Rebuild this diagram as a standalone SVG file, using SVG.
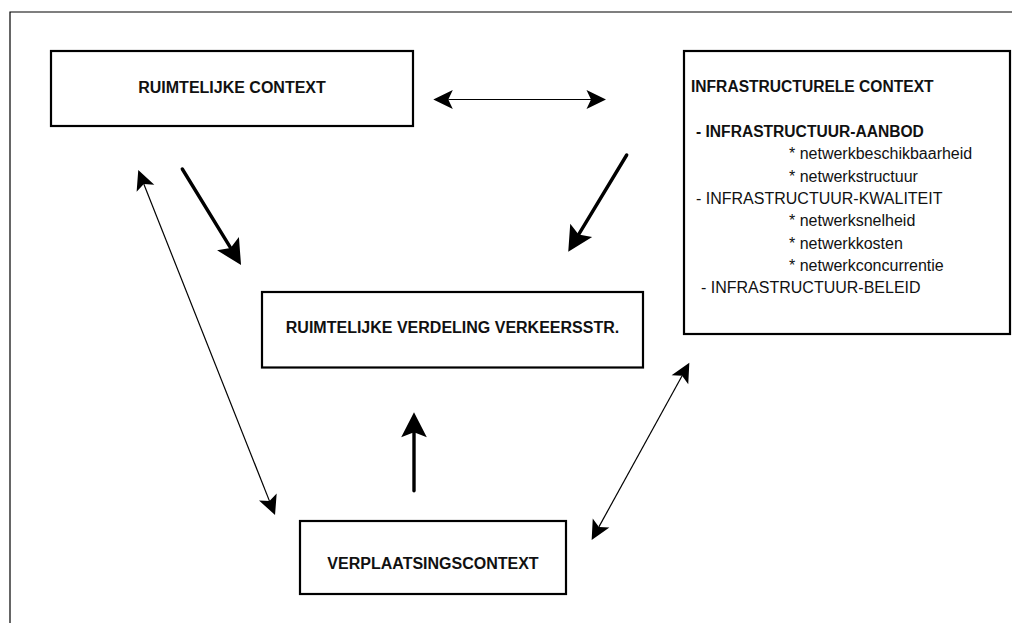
<svg xmlns="http://www.w3.org/2000/svg" width="1016" height="623" viewBox="0 0 1016 623">
  <style>
    .box { fill: #fff; stroke: #000; stroke-width: 2.2; }
    .frame { fill: none; stroke: #000; stroke-width: 1.2; }
    .lbl { font-family: "Liberation Sans", Arial, sans-serif; font-size: 16px; font-weight: bold; fill: #111; }
    .hd { font-family: "Liberation Sans", Arial, sans-serif; font-size: 15.6px; font-weight: bold; fill: #111; }
    .it { font-family: "Liberation Sans", Arial, sans-serif; font-size: 16px; fill: #111; }
    .thick { fill: none; stroke: #000; stroke-width: 3.4; stroke-linecap: round; }
    .thin { fill: none; stroke: #000; stroke-width: 1.2; }
  </style>
  <defs>
    <!-- heavy one-way arrowhead; reference point sits in the notch -->
    <marker id="headThick" markerUnits="userSpaceOnUse" viewBox="-6 -14 27 28" markerWidth="27" markerHeight="28" refX="0" refY="0" orient="auto">
      <path d="M20,0 L-5,-12.8 L0,0 L-5,12.8 Z" fill="#000"/>
    </marker>
    <!-- light arrowhead for the two-way links -->
    <marker id="headThin" markerUnits="userSpaceOnUse" viewBox="-5 -10 21 20" markerWidth="21" markerHeight="20" refX="0" refY="0" orient="auto-start-reverse">
      <path d="M15,0 L-4.5,-9.5 L0,0 L-4.5,9.5 Z" fill="#000"/>
    </marker>
  </defs>

  <!-- page frame: top and left rules only -->
  <path class="frame" d="M10,623 L10,12 L1012,12"/>

  <g id="ruimtelijke-context">
    <rect class="box" x="51" y="51" width="362" height="75"/>
    <text class="lbl" x="232" y="93.3" text-anchor="middle">RUIMTELIJKE CONTEXT</text>
  </g>

  <g id="infrastructurele-context">
    <rect class="box" x="684" y="51" width="326" height="283"/>
    <text class="hd" x="691" y="91.7">INFRASTRUCTURELE CONTEXT</text>
    <text class="hd" x="696" y="137">- INFRASTRUCTUUR-AANBOD</text>
    <text class="it" x="789" y="159.3">* netwerkbeschikbaarheid</text>
    <text class="it" x="789" y="181.6">* netwerkstructuur</text>
    <text class="it" x="696" y="204">- INFRASTRUCTUUR-KWALITEIT</text>
    <text class="it" x="789" y="226.3">* netwerksnelheid</text>
    <text class="it" x="789" y="248.6">* netwerkkosten</text>
    <text class="it" x="789" y="271">* netwerkconcurrentie</text>
    <text class="it" x="701" y="293.3">- INFRASTRUCTUUR-BELEID</text>
  </g>

  <g id="ruimtelijke-verdeling">
    <rect class="box" x="262" y="292" width="381" height="75.5"/>
    <text class="lbl" x="452.5" y="333" text-anchor="middle">RUIMTELIJKE VERDELING VERKEERSSTR.</text>
  </g>

  <g id="verplaatsingscontext">
    <rect class="box" x="300" y="521" width="266" height="73"/>
    <text class="lbl" x="433" y="568.7" text-anchor="middle">VERPLAATSINGSCONTEXT</text>
  </g>

  <g id="connectors">
    <!-- two-way links -->
    <line class="thin" x1="448.3" y1="99.5" x2="591" y2="99.5" marker-start="url(#headThin)" marker-end="url(#headThin)"/>
    <line class="thin" x1="143.8" y1="184" x2="269.5" y2="501.1" marker-start="url(#headThin)" marker-end="url(#headThin)"/>
    <line class="thin" x1="598.9" y1="526.9" x2="682.1" y2="375.8" marker-start="url(#headThin)" marker-end="url(#headThin)"/>
    <!-- one-way influences into the central box -->
    <line class="thick" x1="182.3" y1="169" x2="230.6" y2="247.9" marker-end="url(#headThick)"/>
    <line class="thick" x1="626.7" y1="155" x2="578.6" y2="234.6" marker-end="url(#headThick)"/>
    <line class="thick" x1="414" y1="490.7" x2="414" y2="432.3" marker-end="url(#headThick)"/>
  </g>
</svg>
